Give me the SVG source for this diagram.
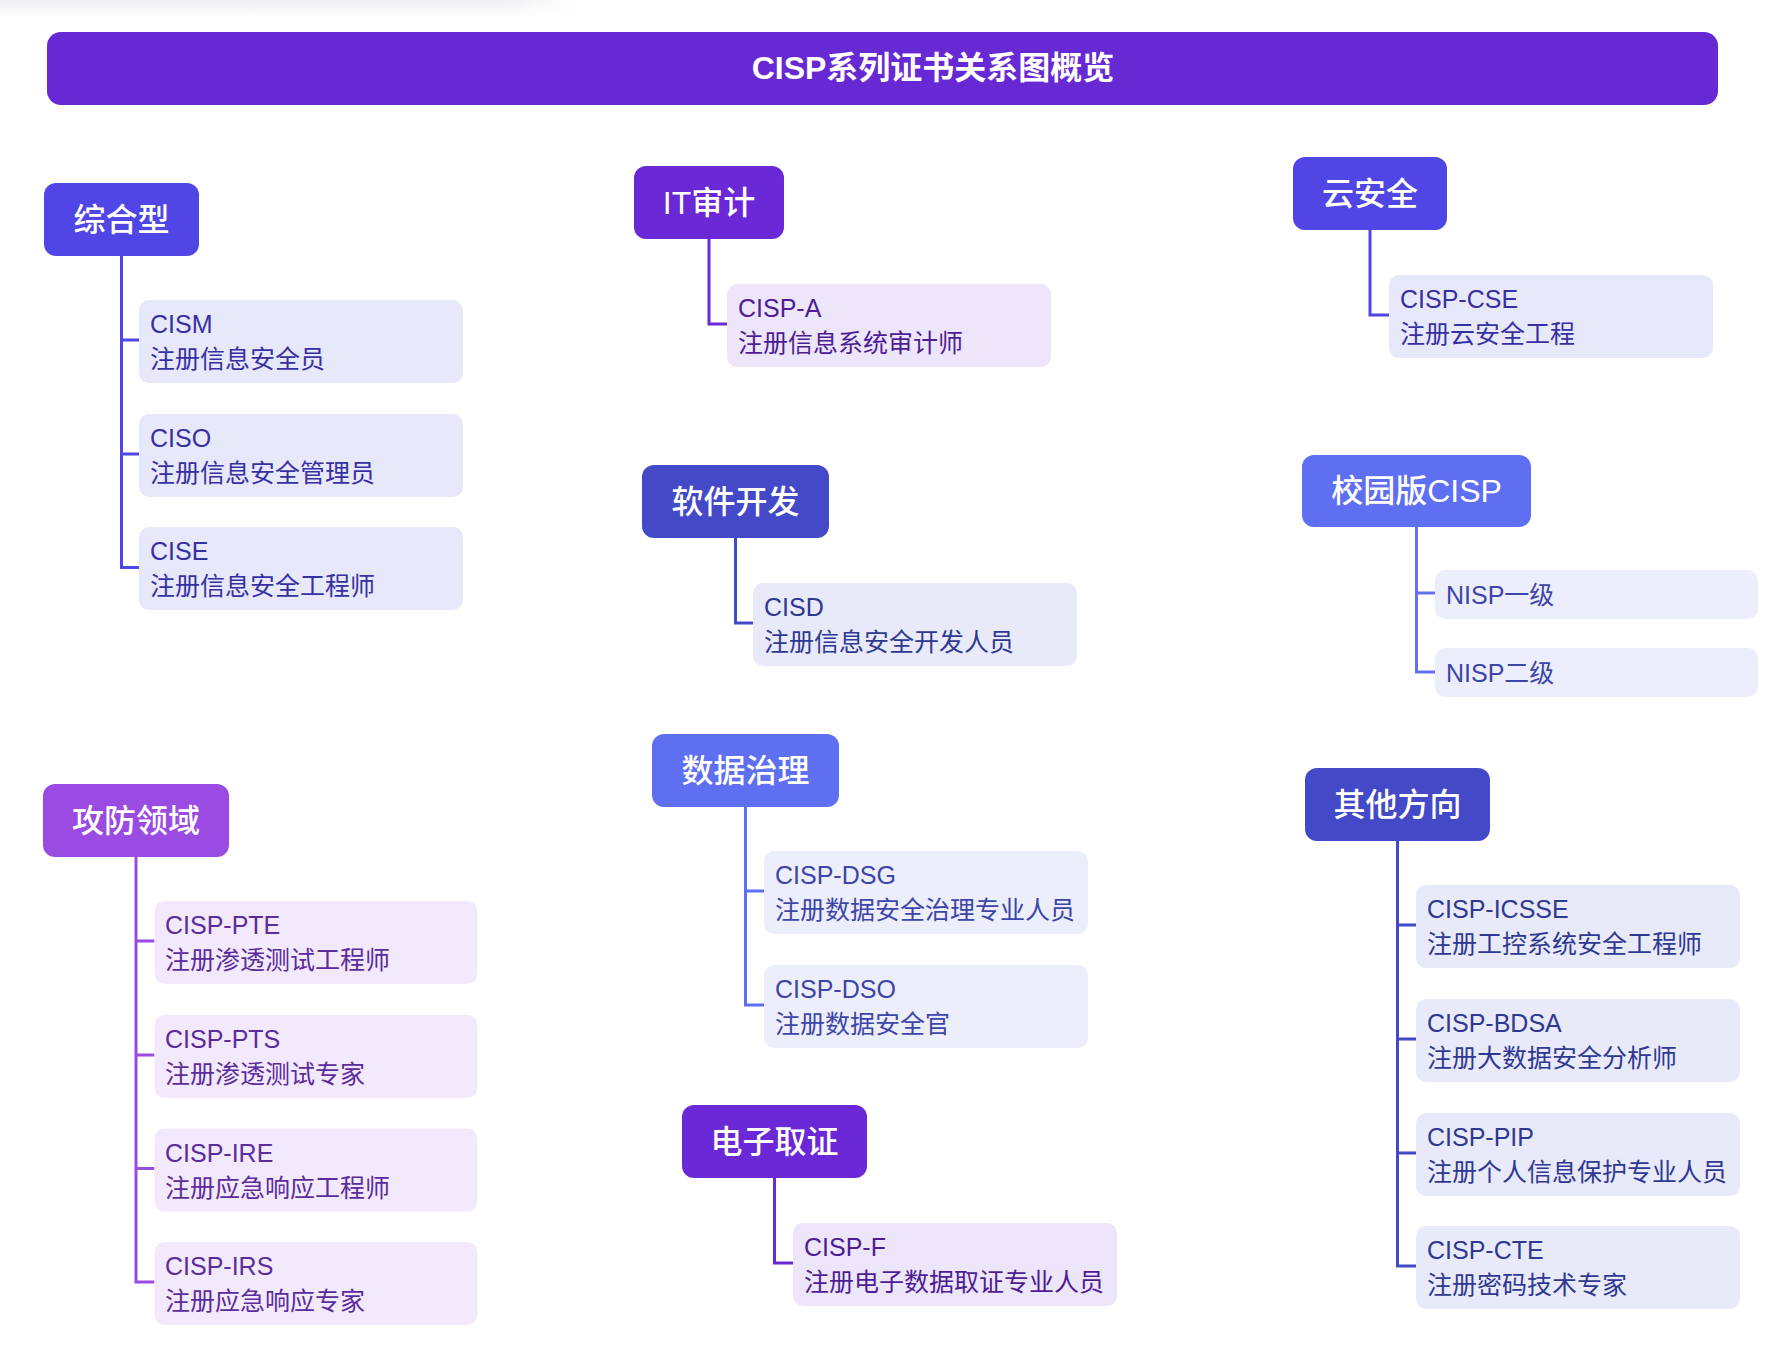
<svg xmlns="http://www.w3.org/2000/svg" width="1782" height="1360" viewBox="0 0 1782 1360">
<defs>
<linearGradient id="topfade" x1="0" y1="0" x2="0" y2="1">
<stop offset="0" stop-color="#EEEEF1"/>
<stop offset="1" stop-color="#FFFFFF"/>
</linearGradient>
<linearGradient id="topfadeH" x1="0" y1="0" x2="1" y2="0">
<stop offset="0" stop-color="#FFFFFF" stop-opacity="1"/>
<stop offset="0.85" stop-color="#FFFFFF" stop-opacity="1"/>
<stop offset="1" stop-color="#FFFFFF" stop-opacity="0"/>
</linearGradient>
<mask id="fadeMask"><rect x="0" y="0" width="580" height="18" fill="url(#topfadeH)"/></mask>
</defs>
<style>
text{font-family:"Liberation Sans","Noto Sans CJK SC",sans-serif;}
.title{font-size:32px;font-weight:bold;fill:#FFFFFF;}
.hd{font-size:32px;font-weight:500;fill:#FFFFFF;}
.ct{font-size:25px;}
.hbox{stroke:none;}
.cbox{stroke:none;}
.conn path{fill:none;stroke-width:3;stroke-linejoin:miter;stroke-linecap:butt;}
.indigo .hbox{fill:#4F46E5;} .indigo .cbox{fill:#E8E8FB;} .indigo .ct{fill:#3730A3;}
.violet .hbox{fill:#6A28D6;} .violet .cbox{fill:#EDE5F9;} .violet .ct{fill:#4C1D95;}
.deep .hbox{fill:#4349C7;} .deep .cbox{fill:#E8EAF9;} .deep .ct{fill:#2F3892;}
.light .hbox{fill:#5F6FF1;} .light .cbox{fill:#ECEEFC;} .light .ct{fill:#3D45A8;}
.purple .hbox{fill:#9A4BE2;} .purple .cbox{fill:#F2E9FC;} .purple .ct{fill:#5B2C9B;}
</style>
<rect x="0" y="0" width="1782" height="1360" fill="#FFFFFF"/>
<rect x="0" y="0" width="580" height="18" fill="url(#topfade)" mask="url(#fadeMask)"/>

<g id="title">
<rect x="47" y="32" width="1671" height="73" rx="14" fill="#6729D4"/>
<text class="title" x="933" y="68" text-anchor="middle" dominant-baseline="central">CISP系列证书关系图概览</text>
</g>

<g id="connectors" class="conn">
<path d="M121.5 256 V567.5 H139 M121.5 340 H139 M121.5 454 H139" stroke="#4F46E5"/>
<path d="M709 239 V324 H727" stroke="#6A28D6"/>
<path d="M1370 230 V315 H1389" stroke="#4F46E5"/>
<path d="M735.5 538 V623 H753" stroke="#4349C7"/>
<path d="M1416.5 527 V672 H1435 M1416.5 593 H1435" stroke="#6470F1"/>
<path d="M745.5 807 V1005 H764 M745.5 891 H764" stroke="#5F6FF1"/>
<path d="M774.5 1178 V1263 H793" stroke="#6A28D6"/>
<path d="M1397.5 841 V1266 H1416 M1397.5 925 H1416 M1397.5 1039 H1416 M1397.5 1153 H1416" stroke="#4349C7"/>
<path d="M136 857 V1282 H154.5 M136 941 H154.5 M136 1055 H154.5 M136 1168.5 H154.5" stroke="#9A4BE2"/>
</g>

<g id="grp-zonghe" class="indigo">
<g id="node-zonghe"><rect class="hbox" x="44" y="183" width="155" height="73" rx="12"/><text class="hd" x="121.5" y="219.5" text-anchor="middle" dominant-baseline="central">综合型</text></g>
<g id="node-cism"><rect class="cbox" x="139" y="300" width="324" height="83" rx="10"/><text class="ct" x="150" y="333">CISM</text><text class="ct" x="150" y="368">注册信息安全员</text></g>
<g id="node-ciso"><rect class="cbox" x="139" y="414" width="324" height="83" rx="10"/><text class="ct" x="150" y="447">CISO</text><text class="ct" x="150" y="482">注册信息安全管理员</text></g>
<g id="node-cise"><rect class="cbox" x="139" y="527" width="324" height="83" rx="10"/><text class="ct" x="150" y="560">CISE</text><text class="ct" x="150" y="595">注册信息安全工程师</text></g>
</g>

<g id="grp-itaudit" class="violet">
<g id="node-itaudit"><rect class="hbox" x="634" y="166" width="150" height="73" rx="12"/><text class="hd" x="709" y="202.5" text-anchor="middle" dominant-baseline="central">IT审计</text></g>
<g id="node-cisp-a"><rect class="cbox" x="727" y="284" width="324" height="83" rx="10"/><text class="ct" x="738" y="317">CISP-A</text><text class="ct" x="738" y="352">注册信息系统审计师</text></g>
</g>

<g id="grp-cloud" class="indigo">
<g id="node-cloud"><rect class="hbox" x="1293" y="157" width="154" height="73" rx="12"/><text class="hd" x="1370" y="193.5" text-anchor="middle" dominant-baseline="central">云安全</text></g>
<g id="node-cisp-cse"><rect class="cbox" x="1389" y="275" width="324" height="83" rx="10"/><text class="ct" x="1400" y="308">CISP-CSE</text><text class="ct" x="1400" y="343">注册云安全工程</text></g>
</g>

<g id="grp-software" class="deep">
<g id="node-software"><rect class="hbox" x="642" y="465" width="187" height="73" rx="12"/><text class="hd" x="735.5" y="501.5" text-anchor="middle" dominant-baseline="central">软件开发</text></g>
<g id="node-cisd"><rect class="cbox" x="753" y="583" width="324" height="83" rx="10"/><text class="ct" x="764" y="616">CISD</text><text class="ct" x="764" y="651">注册信息安全开发人员</text></g>
</g>

<g id="grp-campus" class="light">
<g id="node-campus"><rect class="hbox" x="1302" y="455" width="229" height="72" rx="12" fill="#6470F1"/><text class="hd" x="1416.5" y="491" text-anchor="middle" dominant-baseline="central">校园版CISP</text></g>
<g id="node-nisp1"><rect class="cbox" x="1435" y="570" width="323" height="49" rx="10"/><text class="ct" x="1446" y="595" dominant-baseline="central">NISP一级</text></g>
<g id="node-nisp2"><rect class="cbox" x="1435" y="648" width="323" height="49" rx="10"/><text class="ct" x="1446" y="673" dominant-baseline="central">NISP二级</text></g>
</g>

<g id="grp-data" class="light">
<g id="node-data"><rect class="hbox" x="652" y="734" width="187" height="73" rx="12"/><text class="hd" x="745.5" y="770.5" text-anchor="middle" dominant-baseline="central">数据治理</text></g>
<g id="node-cisp-dsg"><rect class="cbox" x="764" y="851" width="324" height="83" rx="10"/><text class="ct" x="775" y="884">CISP-DSG</text><text class="ct" x="775" y="919">注册数据安全治理专业人员</text></g>
<g id="node-cisp-dso"><rect class="cbox" x="764" y="965" width="324" height="83" rx="10"/><text class="ct" x="775" y="998">CISP-DSO</text><text class="ct" x="775" y="1033">注册数据安全官</text></g>
</g>

<g id="grp-forensics" class="violet">
<g id="node-forensics"><rect class="hbox" x="682" y="1105" width="185" height="73" rx="12"/><text class="hd" x="774.5" y="1141.5" text-anchor="middle" dominant-baseline="central">电子取证</text></g>
<g id="node-cisp-f"><rect class="cbox" x="793" y="1223" width="324" height="83" rx="10"/><text class="ct" x="804" y="1256">CISP-F</text><text class="ct" x="804" y="1291">注册电子数据取证专业人员</text></g>
</g>

<g id="grp-other" class="deep">
<g id="node-other"><rect class="hbox" x="1305" y="768" width="185" height="73" rx="12"/><text class="hd" x="1397.5" y="804.5" text-anchor="middle" dominant-baseline="central">其他方向</text></g>
<g id="node-cisp-icsse"><rect class="cbox" x="1416" y="885" width="324" height="83" rx="10"/><text class="ct" x="1427" y="918">CISP-ICSSE</text><text class="ct" x="1427" y="953">注册工控系统安全工程师</text></g>
<g id="node-cisp-bdsa"><rect class="cbox" x="1416" y="999" width="324" height="83" rx="10"/><text class="ct" x="1427" y="1032">CISP-BDSA</text><text class="ct" x="1427" y="1067">注册大数据安全分析师</text></g>
<g id="node-cisp-pip"><rect class="cbox" x="1416" y="1113" width="324" height="83" rx="10"/><text class="ct" x="1427" y="1146">CISP-PIP</text><text class="ct" x="1427" y="1181">注册个人信息保护专业人员</text></g>
<g id="node-cisp-cte"><rect class="cbox" x="1416" y="1226" width="324" height="83" rx="10"/><text class="ct" x="1427" y="1259">CISP-CTE</text><text class="ct" x="1427" y="1294">注册密码技术专家</text></g>
</g>

<g id="grp-attack" class="purple">
<g id="node-attack"><rect class="hbox" x="43" y="784" width="186" height="73" rx="12"/><text class="hd" x="136" y="820.5" text-anchor="middle" dominant-baseline="central">攻防领域</text></g>
<g id="node-cisp-pte"><rect class="cbox" x="154.5" y="901" width="323" height="83" rx="10"/><text class="ct" x="165" y="934">CISP-PTE</text><text class="ct" x="165" y="969">注册渗透测试工程师</text></g>
<g id="node-cisp-pts"><rect class="cbox" x="154.5" y="1015" width="323" height="83" rx="10"/><text class="ct" x="165" y="1048">CISP-PTS</text><text class="ct" x="165" y="1083">注册渗透测试专家</text></g>
<g id="node-cisp-ire"><rect class="cbox" x="154.5" y="1128.5" width="323" height="83" rx="10"/><text class="ct" x="165" y="1161.5">CISP-IRE</text><text class="ct" x="165" y="1196.5">注册应急响应工程师</text></g>
<g id="node-cisp-irs"><rect class="cbox" x="154.5" y="1242" width="323" height="83" rx="10"/><text class="ct" x="165" y="1275">CISP-IRS</text><text class="ct" x="165" y="1310">注册应急响应专家</text></g>
</g>
</svg>
